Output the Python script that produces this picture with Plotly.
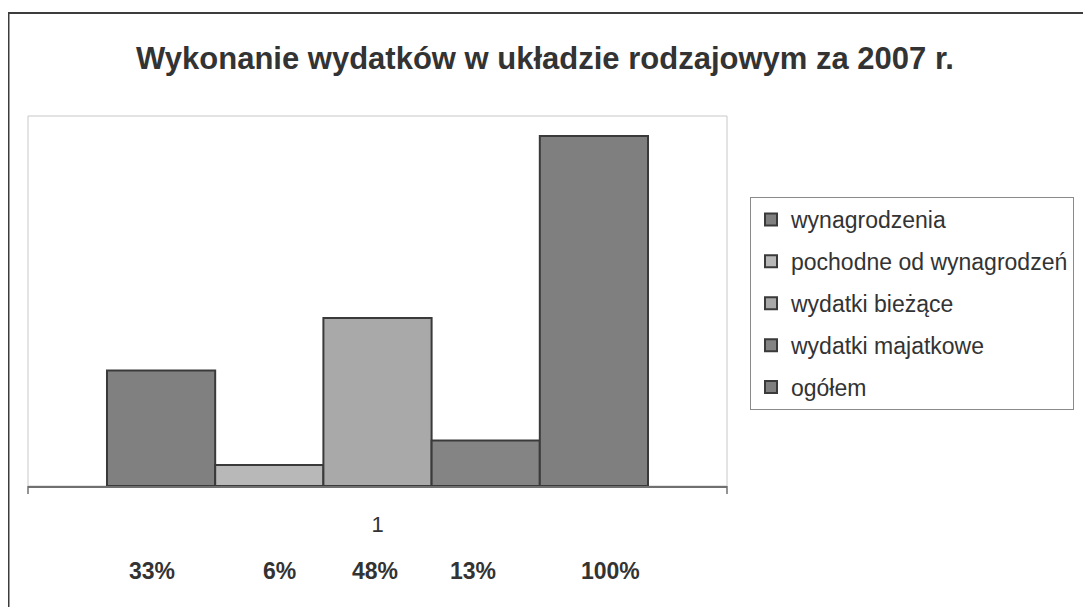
import plotly.graph_objects as go

categories = ["1"]
series_names = ["wynagrodzenia", "pochodne od wynagrodzeń", "wydatki bieżące",
                "wydatki majatkowe", "ogółem"]
series_values = [33, 6, 48, 13, 100]
pct_labels = ["33%", "6%", "48%", "13%", "100%"]
bar_colors = ["#808080", "#b8b8b8", "#a9a9a9", "#848484", "#7f7f7f"]

OFF = 8  # default page body margin
W, H = 1091 - OFF, 607 - OFF
# plot-area box in screen pixels
SL, SR, ST, SB = 28, 727, 116, 486
L, R, T, B = SL - OFF, SR - OFF, ST - OFF, SB - OFF


def px(x):  # screen x -> paper
    return (x - SL) / (SR - SL)


def py(y):  # screen y -> paper
    return (SB - y) / (SB - ST)


fig = go.Figure()
for i, (name, val) in enumerate(zip(series_names, series_values)):
    fig.add_trace(go.Bar(
        x=categories, y=[val], name=name, legendgroup=name,
        marker=dict(color=bar_colors[i], line=dict(color="#3a3a3a", width=2)),
        hoverinfo="name+y",
    ))

shapes = [
    # outer chart frame (extends beyond the picture at right/bottom)
    dict(type="rect", xref="paper", yref="paper", x0=px(8.5), x1=px(1120),
         y0=py(640), y1=py(13), line=dict(color="#3c3c3c", width=2), layer="below"),
    # plot area border
    dict(type="rect", xref="paper", yref="paper", x0=0, x1=1, y0=0, y1=1,
         line=dict(color="#c8c8c8", width=1), layer="below"),
    # category boundary ticks
    dict(type="line", xref="paper", yref="paper", x0=0, x1=0, y0=0, y1=py(494),
         line=dict(color="#707070", width=1.5)),
    dict(type="line", xref="paper", yref="paper", x0=1, x1=1, y0=0, y1=py(494),
         line=dict(color="#707070", width=1.5)),
]

annotations = []
pct_x = [152, 279, 375, 473, 610]
for xp, t in zip(pct_x, pct_labels):
    annotations.append(dict(
        xref="paper", yref="paper", x=px(xp), y=py(571), text="<b>%s</b>" % t,
        showarrow=False, xanchor="center", yanchor="middle",
        font=dict(family="Liberation Sans, Arial, sans-serif", size=23, color="#333333"),
    ))

fig.update_layout(
    width=W, height=H,
    margin=dict(l=L, r=W - R, t=T, b=H - B, pad=0),
    paper_bgcolor="white", plot_bgcolor="white",
    barmode="group", bargap=0.226, bargroupgap=0,
    title=dict(text="<b>Wykonanie wydatków w układzie rodzajowym za 2007 r.</b>",
               x=(545 - OFF) / W, xref="container", xanchor="center",
               y=1 - (58 - OFF) / H, yref="container", yanchor="middle",
               font=dict(family="Liberation Sans, Arial, sans-serif", size=31, color="#333333")),
    xaxis=dict(showline=True, linecolor="#707070", linewidth=1.5, ticks="",
               showgrid=False, tickfont=dict(family="Liberation Sans, Arial", size=22, color="#333333"),
               ticklabelstandoff=18),
    yaxis=dict(range=[0, 105.7], visible=False, showgrid=False, zeroline=False),
    legend=dict(x=px(750), y=py(197), xanchor="left", yanchor="top",
                bordercolor="#8a8a8a", borderwidth=1, bgcolor="white",
                font=dict(family="Liberation Sans, Arial, sans-serif", size=23, color="#333333"),
                tracegroupgap=9, itemwidth=30, traceorder="grouped"),
    shapes=shapes, annotations=annotations,
    font=dict(family="Liberation Sans, Arial, sans-serif", color="#333333"),
)

fig.write_html("out.html")
